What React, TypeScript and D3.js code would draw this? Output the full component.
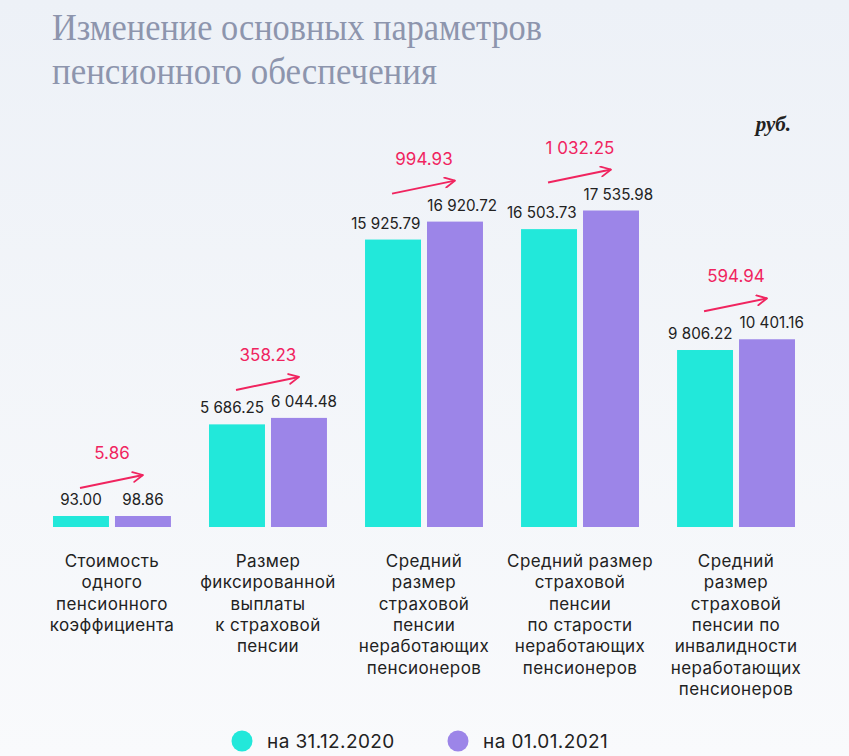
import React from "react";
import * as d3 from "d3";

const categories: string[][] = [
  ["Стоимость", "одного", "пенсионного", "коэффициента"],
  ["Размер", "фиксированной", "выплаты", "к страховой", "пенсии"],
  ["Средний", "размер", "страховой", "пенсии", "неработающих", "пенсионеров"],
  ["Средний размер", "страховой", "пенсии", "по старости", "неработающих", "пенсионеров"],
  ["Средний", "размер", "страховой", "пенсии по", "инвалидности", "неработающих", "пенсионеров"],
];
const seriesNames = ["на 31.12.2020", "на 01.01.2021"];
const values2020 = [93.0, 5686.25, 15925.79, 16503.73, 9806.22];
const values2021 = [98.86, 6044.48, 16920.72, 17535.98, 10401.16];
const titleLines = ["Изменение основных параметров", "пенсионного обеспечения"];
const unitLabel = "руб.";

const W = 849;
const H = 756;
const COLORS = ["#22e8da", "#9c85e8"];
const PINK = "#f0245f";
const FONT = "Inter, 'Noto Sans', sans-serif";

const fmt = (v: number) => {
  const s = v.toFixed(2);
  const [int, dec] = s.split(".");
  return int.replace(/\B(?=(\d{3})+(?!\d))/g, " ") + "." + dec;
};

let ctx: CanvasRenderingContext2D | null = null;
const measure = (text: string, font: string) => {
  if (!ctx) ctx = document.createElement("canvas").getContext("2d");
  if (!ctx) return text.length * 8;
  ctx.font = font;
  return ctx.measureText(text).width;
};

export default function App() {
  const baseY = 527;
  const keys = categories.map((_, i) => String(i));
  const x = d3.scaleBand<string>().domain(keys).range([53, 795]).paddingInner(0.244).paddingOuter(0);
  const xi = d3.scaleBand<string>().domain(["0", "1"]).range([0, x.bandwidth()]).paddingInner(0.097);
  const maxV = d3.max(values2021) as number;
  const y = d3.scaleLinear().domain([0, maxV]).range([baseY, baseY - 316.5]);
  const minBar = 11;
  const barTop = (v: number) => Math.min(y(v), baseY - minBar);

  const valFontSize = 15.2;
  const valFont = `${valFontSize}px Inter, 'Noto Sans', sans-serif`;
  const titleWidths = [490, 385];

  return (
    <svg width={W} height={H} style={{ position: "absolute", left: 0, top: 0 }} xmlns="http://www.w3.org/2000/svg">
      <defs>
        <linearGradient id="bg" x1="0" y1="0" x2="0" y2="1">
          <stop offset="0" stopColor="#edf1f7" />
          <stop offset="1" stopColor="#f9fafc" />
        </linearGradient>
        <marker id="ah" viewBox="0 0 12 12" refX="11" refY="6" markerWidth="12" markerHeight="12" markerUnits="userSpaceOnUse" orient="auto">
          <path d="M1,1 L11,6 L1,11" fill="none" stroke={PINK} strokeWidth={1.8} strokeLinecap="round" strokeLinejoin="round" />
        </marker>
      </defs>
      <rect x={0} y={0} width={W} height={H} fill="url(#bg)" />

      {titleLines.map((t, i) => (
        <text key={i} x={52} y={40 + i * 44} fontFamily="'Liberation Serif', 'DejaVu Serif', serif" fontSize={38} fill="#8d95ad"
          textLength={titleWidths[i]} lengthAdjust="spacingAndGlyphs">
          {t}
        </text>
      ))}
      <text x={791} y={131} textAnchor="end" fontFamily="'Liberation Serif', serif" fontStyle="italic" fontWeight="bold" fontSize={21} fill="#222">
        {unitLabel}
      </text>

      {keys.map((k, i) => {
        const gx = x(k) as number;
        const vals = [values2020[i], values2021[i]];
        const tops = vals.map(barTop);
        const centers = vals.map((_, s) => gx + (xi(String(s)) as number) + xi.bandwidth() / 2);
        const widths = vals.map((v) => measure(fmt(v), valFont));
        const gap = 7;
        const overlap = centers[0] + widths[0] / 2 + gap - (centers[1] - widths[1] / 2);
        const lc = overlap > 0 ? [centers[0] - overlap / 2, centers[1] + overlap / 2] : centers;
        const pTop = tops[1];
        const groupCenter = gx + x.bandwidth() / 2;
        return (
          <g key={k}>
            {vals.map((v, s) => (
              <rect key={s} x={gx + (xi(String(s)) as number)} y={tops[s]} width={xi.bandwidth()} height={baseY - tops[s]} fill={COLORS[s]} />
            ))}
            {vals.map((v, s) => (
              <text key={"l" + s} x={lc[s]} y={tops[s] - 11} textAnchor="middle" fontFamily={FONT} fontSize={valFontSize} fill="#222">
                {fmt(v)}
              </text>
            ))}
            <line x1={gx + 27} y1={pTop - 28} x2={gx + 90} y2={pTop - 41} stroke={PINK} strokeWidth={2} markerEnd="url(#ah)" />
            <text x={groupCenter} y={pTop - 57} textAnchor="middle" fontFamily={FONT} fontSize={17} fill={PINK}>
              {fmt(vals[1] - vals[0])}
            </text>
            {categories[i].map((line, j) => (
              <text key={"c" + j} x={groupCenter} y={567 + j * 21.3} textAnchor="middle" fontFamily={FONT} fontSize={17} letterSpacing={0.4} fill="#222">
                {line}
              </text>
            ))}
          </g>
        );
      })}

      {seriesNames.map((n, s) => (
        <g key={n} transform={`translate(${242 + s * 216},741)`}>
          <circle cx={0} cy={0} r={10.5} fill={COLORS[s]} />
          <text x={25} y={6.5} fontFamily={FONT} fontSize={19} letterSpacing={0.4} fill="#222">
            {n}
          </text>
        </g>
      ))}
    </svg>
  );
}
